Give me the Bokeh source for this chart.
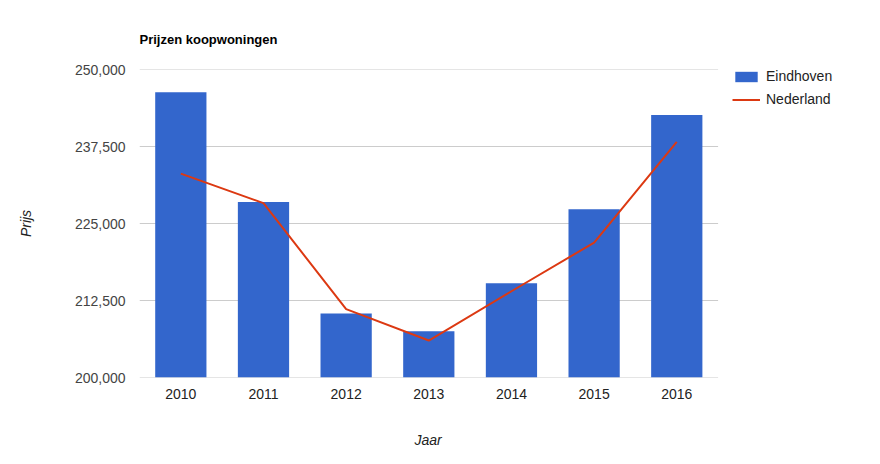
from bokeh.plotting import figure
from bokeh.models import (Range1d, NumeralTickFormatter, FixedTicker,
                          Legend, LegendItem, Title)
from bokeh.embed import file_html
from bokeh.resources import INLINE

years = [2010, 2011, 2012, 2013, 2014, 2015, 2016]
year_labels = ["2010", "2011", "2012", "2013", "2014", "2015", "2016"]
eindhoven = [246300, 228500, 210400, 207500, 215300, 227300, 242600]
nederland = [233100, 228300, 211100, 206000, 214000, 221900, 238250]
y_ticks = [200000, 212500, 225000, 237500, 250000]

FONT = "Liberation Sans"

# layout: plotting area for the categories is 578.6 px wide, the frame
# extends further right to hold the legend
W, H = 880, 464
LEFT, TOP, BOTTOM = 139, 69, 87
CAT_W = 578.6
frame_w = W - LEFT
x_start = years[0] - 0.5
x_cat_end = years[-1] + 0.5
x_end = x_start + (x_cat_end - x_start) * frame_w / CAT_W

p = figure(width=W, height=H, x_range=Range1d(x_start, x_end),
           y_range=Range1d(y_ticks[0], y_ticks[-1]),
           output_backend="svg", toolbar_location=None,
           min_border_left=LEFT, min_border_right=0,
           min_border_top=TOP, min_border_bottom=BOTTOM)

p.xgrid.grid_line_color = None
p.ygrid.grid_line_color = None
p.segment(x0=[x_start] * len(y_ticks), x1=[x_cat_end] * len(y_ticks),
          y0=y_ticks, y1=y_ticks, line_color="#cccccc", line_width=1)

bars = p.vbar(x=years, top=eindhoven, bottom=y_ticks[0], width=0.62,
              fill_color="#3366cc", line_color=None)
ln = p.line(x=years, y=nederland, line_color="#dc3912", line_width=2)

p.title.text = "Prijzen koopwoningen"
p.title.text_font = FONT
p.title.text_font_size = "13px"
p.title.text_font_style = "bold"
p.title.text_color = "#000000"
p.title.align = "left"
p.title.standoff = 46

p.outline_line_color = None
p.background_fill_color = "white"
p.border_fill_color = "white"

p.yaxis.ticker = FixedTicker(ticks=y_ticks)
p.yaxis.formatter = NumeralTickFormatter(format="0,0")
p.yaxis.axis_line_color = None
p.yaxis.major_tick_line_color = None
p.yaxis.minor_tick_line_color = None
p.yaxis.major_tick_out = 0
p.yaxis.major_tick_in = 0
p.yaxis.major_label_standoff = 14
p.yaxis.major_label_text_font = FONT
p.yaxis.major_label_text_font_size = "14px"
p.yaxis.major_label_text_color = "#444444"
p.yaxis.axis_label = "Prijs"
p.yaxis.axis_label_text_font = FONT
p.yaxis.axis_label_text_font_size = "14px"
p.yaxis.axis_label_text_font_style = "italic"
p.yaxis.axis_label_text_color = "#222222"
p.yaxis.axis_label_standoff = 38

p.xaxis.ticker = FixedTicker(ticks=years)
p.xaxis.major_label_overrides = {y: l for y, l in zip(years, year_labels)}
p.xaxis.axis_line_color = None
p.xaxis.major_tick_line_color = None
p.xaxis.minor_tick_line_color = None
p.xaxis.major_tick_out = 0
p.xaxis.major_tick_in = 0
p.xaxis.major_label_standoff = 11
p.xaxis.major_label_text_font = FONT
p.xaxis.major_label_text_font_size = "14px"
p.xaxis.major_label_text_color = "#222222"
# a blank, tiny axis label acts as a spacer below the year labels
p.xaxis.axis_label = " "
p.xaxis.axis_label_text_font_size = "1px"
p.xaxis.axis_label_standoff = 13

# x axis title, centred under the category area (not under the whole frame)
x_title = Title(text="Jaar", align="left", offset=275, standoff=23,
                text_font=FONT, text_font_size="14px", text_font_style="italic",
                text_color="#222222")
p.add_layout(x_title, "below")

legend = Legend(items=[LegendItem(label="Eindhoven", renderers=[bars]),
                       LegendItem(label="Nederland", renderers=[ln])],
                location=(593, 270), padding=0, margin=0, spacing=7,
                border_line_color=None, background_fill_alpha=0,
                glyph_width=28, glyph_height=13, label_height=13,
                label_standoff=6,
                label_text_font=FONT, label_text_font_size="14px",
                label_text_color="#222222")
p.add_layout(legend, "center")

open("out.html", "w").write(file_html(p, INLINE))
